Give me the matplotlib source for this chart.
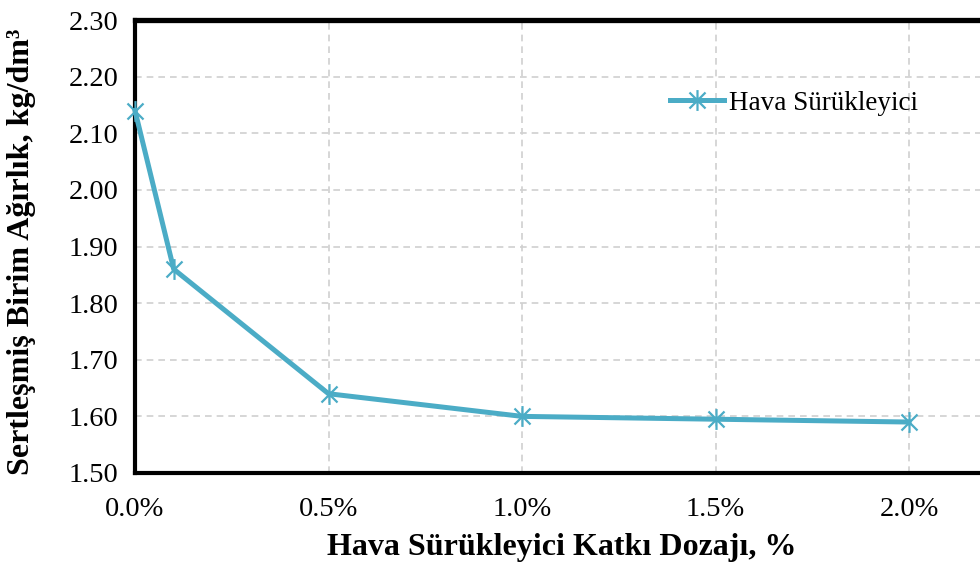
import numpy as np
import matplotlib.pyplot as plt
from matplotlib.path import Path
from matplotlib.markers import MarkerStyle

# data
dosage = [0.0, 0.1, 0.5, 1.0, 1.5, 2.0]
density = [2.14, 1.86, 1.64, 1.60, 1.595, 1.59]
xticks = [0.0, 0.5, 1.0, 1.5, 2.0]
xtick_labels = ['0.0%', '0.5%', '1.0%', '1.5%', '2.0%']
yticks = [1.50, 1.60, 1.70, 1.80, 1.90, 2.00, 2.10, 2.20, 2.30]

plt.rcParams['font.family'] = ['Liberation Serif', 'DejaVu Serif']
color = '#4BACC6'

# excel style star marker: X plus a vertical bar
verts = [(-1, -1), (1, 1), (-1, 1), (1, -1), (0, -1.3), (0, 1.3)]
codes = [Path.MOVETO, Path.LINETO] * 3
star = MarkerStyle(Path(verts, codes))

fig = plt.figure(figsize=(9.8, 5.67), dpi=100)
W, H = 980, 567
x0, x1 = 135, 135 + 387 * 2.5
y0, y1 = 473, 20
ax = fig.add_axes([x0 / W, 1 - y0 / H, (x1 - x0) / W, (y0 - y1) / H])

ax.plot(dosage, density, color=color, lw=3.6, marker=star, markersize=15,
        markeredgewidth=1.6, markeredgecolor=color, label='Hava Sürükleyici',
        clip_on=False, zorder=5)

ax.set_xlim(0, 2.5)
ax.set_ylim(1.5, 2.3)
ax.set_xticks(xticks)
ax.set_xticklabels(xtick_labels)
ax.set_yticks(yticks)
ax.set_yticklabels([f'{v:.2f}' for v in yticks])
ax.tick_params(length=0, labelsize=20.5)
ax.tick_params(axis='y', pad=12)
ax.tick_params(axis='x', pad=17)
ax.grid(True, color='#D0D0D0', ls=(0, (4, 3)), lw=1.2)

for side in ['left', 'bottom']:
    ax.spines[side].set_linewidth(3.0)
for side in ['top', 'right']:
    ax.spines[side].set_linewidth(3.8)

fig.text(22 / W, 1 - 252 / H, 'Sertleşmiş Birim Ağırlık, kg/dm³', rotation=90,
         ha='center', va='center', fontsize=23, fontweight='bold')
fig.text(562 / W, 1 - 547 / H, 'Hava Sürükleyici Katkı Dozajı, %',
         ha='center', va='center', fontsize=23, fontweight='bold')

ax.legend(loc='center left', bbox_to_anchor=(659 / W, 1 - 103 / H),
          bbox_transform=fig.transFigure, frameon=False, fontsize=19.5,
          handlelength=2.0, handletextpad=0.2, borderaxespad=0)

fig.savefig('out.png', dpi=100)
